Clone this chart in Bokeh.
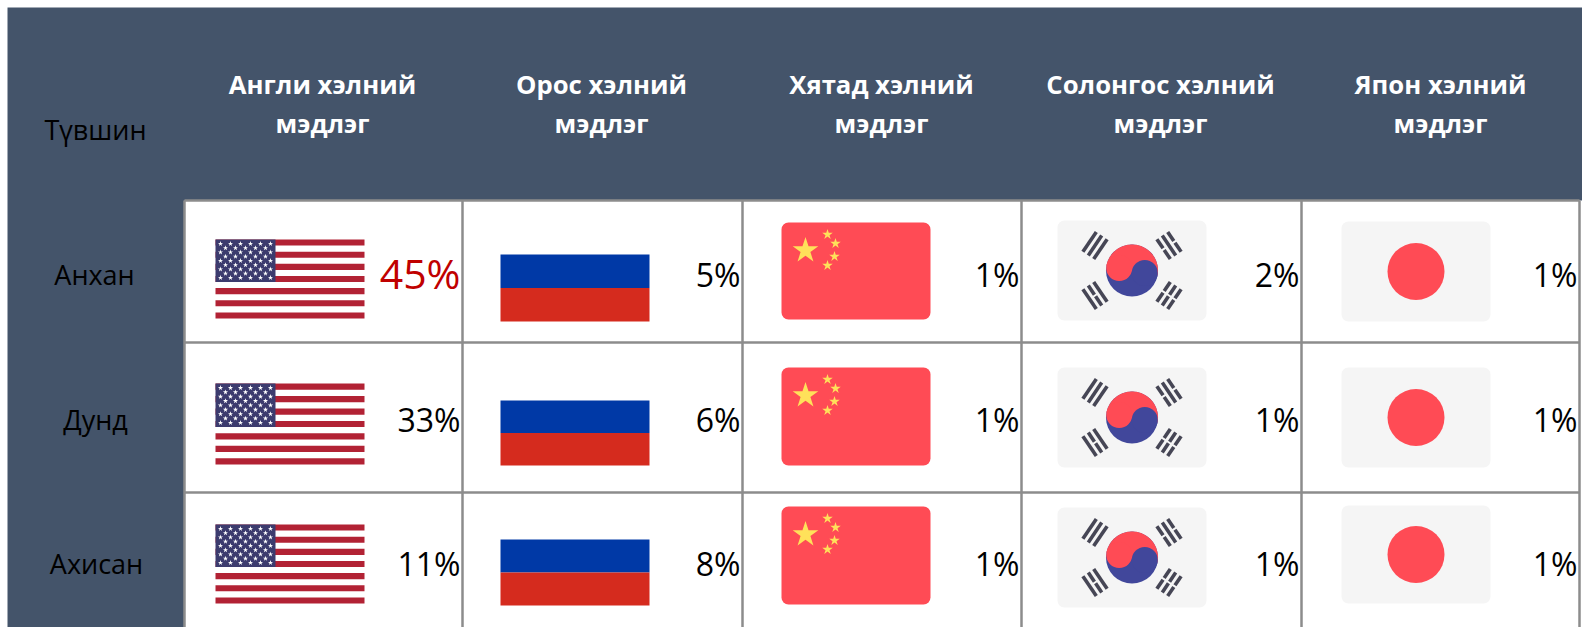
import numpy as np
from bokeh.plotting import figure
from bokeh.models import Range1d
from bokeh.core.properties import value
from bokeh.embed import file_html
from bokeh.resources import INLINE

# ---- data
levels = ["Анхан", "Дунд", "Ахисан"]
corner = "Түвшин"
lang_line1 = ["Англи хэлний", "Орос хэлний", "Хятад хэлний", "Солонгос хэлний", "Япон хэлний"]
lang_line2 = ["мэдлэг", "мэдлэг", "мэдлэг", "мэдлэг", "мэдлэг"]
english = [45, 33, 11]
russian = [5, 6, 8]
chinese = [1, 1, 1]
korean = [2, 1, 1]
japanese = [1, 1, 1]

# ---- layout (page pixels)
W, H = 1582, 627
OX, OY = 0, 0
PX, PY = 7, 7
FONT = value("Open Sans")
PANEL, GRID = "#44546A", "#8C8C8C"
col_lines = [184, 462, 742, 1021, 1301, 1579]
row_lines = [200, 342, 492]
col_left = [215, 500, 781, 1057, 1341]
row_base = [274, 419, 563]
label_cx = [94, 95, 96]
head_cx = [322, 601, 881, 1160, 1440]
flag_w = 149
us_y = [(239, 318), (383, 464), (524, 603)]
ru_y = [(254, 321), (400, 465), (539, 605)]
cn_y = [(222, 319), (367, 465), (506, 604)]
kr_y = [(220, 320), (367, 467), (507, 607)]
jp_y = [(221, 321), (367, 467), (505, 603)]

p = figure(width=W, height=H, output_backend="svg", toolbar_location=None,
           x_range=Range1d(OX, OX + W), y_range=Range1d(OY + H, OY),
           x_axis_location=None, y_axis_location=None, min_border=0,
           background_fill_color="white", border_fill_color="white", outline_line_color=None)
p.grid.visible = False

# panel and cells
p.quad(left=[PX], right=[OX + W], top=[PY], bottom=[OY + H], fill_color=PANEL, line_color=None)
p.quad(left=[col_lines[0]], right=[OX + W], top=[row_lines[0]], bottom=[OY + H],
       fill_color="white", line_color=None)
for x in col_lines:
    p.segment([x], [row_lines[0]], [x], [OY + H], line_color=GRID, line_width=2.5)
for y in row_lines:
    p.segment([col_lines[0]], [y], [col_lines[-1]], [y], line_color=GRID, line_width=2.5)


def box(l, r, t, b, color, radius=0):
    p.quad(left=[l], right=[r], top=[t], bottom=[b], fill_color=color, line_color=None,
           border_radius=radius)


def us_flag(l, t, b):
    r = l + flag_w
    n = 13
    h = (b - t) / n
    for i in range(0, n, 2):
        box(l, r, t + i * h, t + (i + 1) * h, "#B22234")
    ch = 7 * h
    cw = 60
    box(l, l + cw, t, t + ch, "#3C3B6E")
    xs, ys = [], []
    for row in range(9):
        cols = 6 if row % 2 == 0 else 5
        for c in range(cols):
            xs.append(l + cw * ((c + (0.5 if row % 2 else 0)) * 2 + 1) / 12)
            ys.append(t + ch * (row + 1) / 10)
    p.scatter(xs, ys, marker="star", size=5.5, fill_color="white", line_color=None)


def ru_flag(l, t, b):
    m = (t + b) / 2
    box(l, l + flag_w, t, m, "#0039A6")
    box(l, l + flag_w, m, b, "#D52B1E")


def cn_flag(l, t, b):
    box(l, l + flag_w, t, b, "#FF4B55", 7)
    p.scatter([l + 24], [t + 28], marker="star", size=27, fill_color="#FFE15A", line_color=None)
    p.scatter([l + 46, l + 54, l + 53, l + 46], [t + 12, t + 21, t + 34, t + 43],
              marker="star", size=11, fill_color="#FFE15A", line_color=None)


def kr_flag(l, t, b):
    box(l, l + flag_w, t, b, "#F5F5F5", 7)
    cx, cy = l + flag_w / 2, (t + b) / 2
    R, tilt = 26, np.radians(11)
    p.circle([cx], [cy], radius=R, fill_color="#41479B", line_color=None)
    a = np.linspace(0, np.pi, 60) + tilt + np.pi
    p.patch(cx + R * np.cos(a), cy + R * np.sin(a), fill_color="#FF4B55", line_color=None)
    d = R / 2
    p.circle([cx - d * np.cos(tilt)], [cy - d * np.sin(tilt)], radius=d, fill_color="#FF4B55", line_color=None)
    p.circle([cx + d * np.cos(tilt)], [cy + d * np.sin(tilt)], radius=d, fill_color="#41479B", line_color=None)
    trigrams = [(-1, -1, [0, 0, 0]), (1, -1, [1, 0, 1]), (-1, 1, [0, 1, 0]), (1, 1, [1, 1, 1])]
    for sx, sy, broken in trigrams:
        mx, my = cx + sx * 37, cy + sy * 25
        ux, uy = sx * 0.83, sy * 0.56   # radial direction
        vx, vy = -uy, ux                # along the bar
        for i, br in enumerate(broken):
            ox, oy = mx + ux * (i - 1) * 6.5, my + uy * (i - 1) * 6.5
            spans = [(-12, -1), (1, 12)] if br else [(-12, 12)]
            for s0, s1 in spans:
                p.segment([ox + vx * s0], [oy + vy * s0], [ox + vx * s1], [oy + vy * s1],
                          line_color="#464655", line_width=3.6)


def jp_flag(l, t, b):
    box(l, l + flag_w, t, b, "#F5F5F5", 7)
    p.circle([l + flag_w / 2], [(t + b) / 2], radius=28.5, fill_color="#FF4B55", line_color=None)


for row in range(3):
    us_flag(col_left[0], *us_y[row])
    ru_flag(col_left[1], *ru_y[row])
    cn_flag(col_left[2], *cn_y[row])
    kr_flag(col_left[3], *kr_y[row])
    jp_flag(col_left[4], *jp_y[row])

# headers
p.text(head_cx, [84] * 5, text=lang_line1, text_font=FONT, text_font_style="bold", text_font_size="25.7px",
       text_color="white", text_align="center", text_baseline="alphabetic")
p.text(head_cx, [123] * 5, text=lang_line2, text_font=FONT, text_font_style="bold", text_font_size="25.7px",
       text_color="white", text_align="center", text_baseline="alphabetic")
p.text([95], [129], text=[corner], text_font=FONT, text_font_size="27px", text_color="black",
       text_align="center", text_baseline="alphabetic")
p.text(label_cx, row_base, text=levels, text_font=FONT, text_font_size="27px", text_color="black",
       text_align="center", text_baseline="alphabetic")

# values
for c, series in enumerate([english, russian, chinese, korean, japanese]):
    for r, v in enumerate(series):
        big = v == max(english)
        p.text([col_lines[c + 1] - 2], [row_base[r] - 2 if big else row_base[r]], text=[f"{v}%"], text_font=FONT,
               text_font_size="41px" if big else "32px",
               text_color="#C00000" if big else "black",
               text_align="right", text_baseline="alphabetic")

open("out.html", "w").write(file_html(p, INLINE))
